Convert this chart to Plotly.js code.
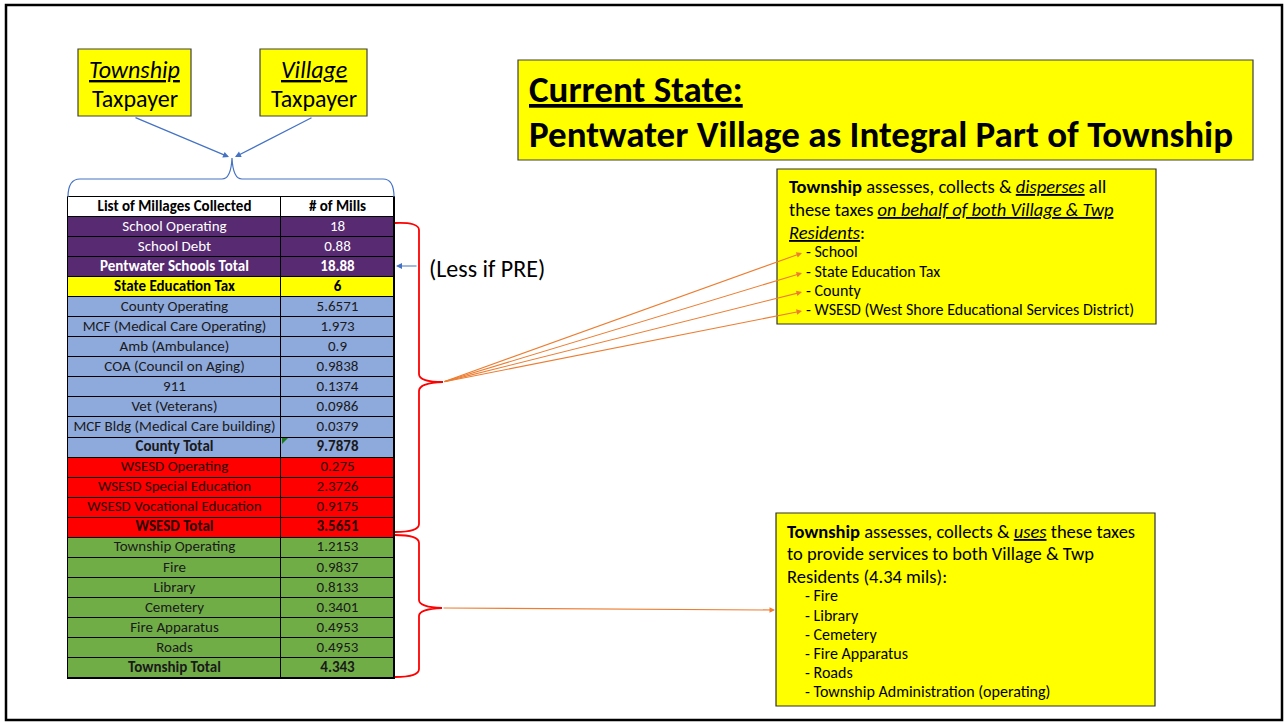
<!DOCTYPE html>
<html><head><meta charset="utf-8">
<script src="https://cdn.plot.ly/plotly-3.0.1.min.js"></script>
<style>html,body{margin:0;padding:0;background:#fff;} #chart{width:1287px;height:722px;}</style>
</head><body><div id="chart"></div>
<script>
// ---- data ----
const headerLabels = ['List of Millages Collected', '# of Mills'];
const millageNames = ['School Operating','School Debt','Pentwater Schools Total','State Education Tax',
  'County Operating','MCF (Medical Care Operating)','Amb (Ambulance)','COA (Council on Aging)','911',
  'Vet (Veterans)','MCF Bldg (Medical Care building)','County Total',
  'WSESD Operating','WSESD Special Education','WSESD Vocational Education','WSESD Total',
  'Township Operating','Fire','Library','Cemetery','Fire Apparatus','Roads','Township Total'];
const millageValues = [18,0.88,18.88,6,5.6571,1.973,0.9,0.9838,0.1374,0.0986,0.0379,9.7878,
  0.275,2.3726,0.9175,3.5651,1.2153,0.9837,0.8133,0.3401,0.4953,0.4953,4.343];
const millageGroups = ['school','school','school','state','county','county','county','county','county',
  'county','county','county','wsesd','wsesd','wsesd','wsesd','township','township','township','township',
  'township','township','township'];
const totalRows = [false,false,true,true,false,false,false,false,false,false,false,true,
  false,false,false,true,false,false,false,false,false,false,true];

const titleLines = ['Current State:', 'Pentwater Village as Integral Part of Township'];
const taxpayerTypes = ['Township', 'Village'];
const disperseList = ['- School', '- State Education Tax', '- County', '- WSESD (West Shore Educational Services District)'];
const useList = ['- Fire', '- Library', '- Cemetery', '- Fire Apparatus', '- Roads', '- Township Administration (operating)'];
const township_mils = 4.34;

// ---- styles ----
const FONT = 'Carlito, Lato, "Open Sans", sans-serif';
const groupOrder = ['header','school','state','county','wsesd','township'];
const fillMap = {header:'#FFFFFF', school:'#582A72', state:'#FFFF00', county:'#8EA9DB', wsesd:'#FF0000', township:'#70AD47'};
const textMap = {header:'#000000', school:'#FFFFFF', state:'#000000', county:'#1a1a1a', wsesd:'#2a0000', township:'#1a1a1a'};
const YEL = '#FFFF00', BLUE = '#4472C4', ORANGE = '#ED7D31', RED = '#FF0000';
const u = s => '<span style="text-decoration:underline">' + s + '</span>';

const W = 1287, H = 722;
const COLW = [213, 113];               // column widths (table units = px)
const colEdges = [0, COLW[0], COLW[0] + COLW[1]];
const colMid = [COLW[0] / 2, COLW[0] + COLW[1] / 2];
const TBL = {x0: 68, x1: 394, y0: 197, y1: 678};

// table rows: header + data rows
const rowGroups = ['header'].concat(millageGroups);
const nRows = rowGroups.length;
const rowEdges = Array.from({length: nRows + 1}, (_, i) => i);
const zRows = rowGroups.map(g => [groupOrder.indexOf(g), groupOrder.indexOf(g)]);
const n = groupOrder.length - 1;
const colorscale = [];
groupOrder.forEach((g, k) => { colorscale.push([k / n === 0 ? 0 : (k - 0.5) / n, fillMap[g]]); colorscale.push([k === n ? 1 : (k + 0.5) / n, fillMap[g]]); });
colorscale[0][0] = 0;

const cellFill = {
  type: 'heatmap', xaxis: 'x2', yaxis: 'y2',
  x: colEdges, y: rowEdges, z: zRows, zmin: 0, zmax: n,
  colorscale, showscale: false, xgap: 1, ygap: 1, hoverinfo: 'skip'
};

// text traces: split into regular and bold
const allNames = headerLabels.slice(0,1).concat(millageNames);
const allVals = headerLabels.slice(1).concat(millageValues.map(String));
const allBold = [true].concat(totalRows);
function textTrace(bold) {
  const xs = [], ys = [], ts = [], cs = [];
  allNames.forEach((nm, i) => {
    if (allBold[i] !== bold) return;
    const c = textMap[rowGroups[i]];
    xs.push(colMid[0], colMid[1]); ys.push(i + 0.5, i + 0.5);
    ts.push(nm, allVals[i]); cs.push(c, c);
  });
  return {type: 'scatter', mode: 'text', xaxis: 'x2', yaxis: 'y2', x: xs, y: ys, text: ts,
    textposition: 'middle center', cliponaxis: false, hoverinfo: 'skip', showlegend: false,
    textfont: {family: FONT, size: 15, color: cs, weight: bold ? 'bold' : 'normal'}};
}
const dummy = {type: 'scatter', x: [], y: [], showlegend: false, hoverinfo: 'skip'};

const shapes = [];
const ann = [];
const rect = (x0,y0,x1,y1,fill,lc,lw) => shapes.push({type:'rect',xref:'x',yref:'y',x0,y0,x1,y1,fillcolor:fill,line:{color:lc,width:lw},layer:'below'});
const txt = (x,y,t,size,opts={}) => ann.push(Object.assign({xref:'x',yref:'y',x,y,text:t,showarrow:false,xanchor:'left',yanchor:'middle',font:{family:FONT,size,color:'#000'}},opts));
const arrow = (x0,y0,x1,y1,color,w) => ann.push({xref:'x',yref:'y',axref:'x',ayref:'y',x:x1,y:y1,ax:x0,ay:y0,text:'',showarrow:true,arrowhead:2,arrowsize:1,arrowwidth:w,arrowcolor:color,standoff:0,startstandoff:0});

// table grid background (black lines show through the cell gaps)
shapes.push({type:'rect',xref:'x',yref:'y',x0:TBL.x0-1,y0:TBL.y0-1,x1:TBL.x1+1,y1:TBL.y1+1,fillcolor:'#000',line:{width:0},layer:'below'});

// outer frame
shapes.push({type:'rect',xref:'x',yref:'y',x0:6,y0:5,x1:1282,y1:720,line:{color:'#000',width:2.5},fillcolor:'rgba(0,0,0,0)'});

// taxpayer boxes
const tpBoxes = [[78,191],[260,367]];
taxpayerTypes.forEach((t,i) => {
  const [x0,x1] = tpBoxes[i];
  rect(x0,49,x1,116,YEL,'#404040',1.2);
  txt((x0+x1)/2, 69, '<i>' + u(t) + '</i>', 24, {xanchor:'center'});
  txt((x0+x1)/2, 98, 'Taxpayer', 24, {xanchor:'center'});
});
arrow(134,117,229,157,BLUE,1.2);
arrow(313,117,235,157,BLUE,1.2);
// blue brace above table
shapes.push({type:'path',xref:'x',yref:'y',path:'M 68 197 Q 68 179 80 179 L 222 179 Q 231 179 232 158 Q 233 179 242 179 L 383 179 Q 394 179 394 197',line:{color:BLUE,width:1.2}});

// title box
rect(518,60,1253,160,YEL,'#404040',1.2);
txt(527, 89, '<b>' + u(titleLines[0]) + '</b>', 37);
txt(527, 134, '<b>' + titleLines[1] + '</b>', 37);

// (Less if PRE)
txt(427, 268, '(Less if PRE)', 24);
arrow(418,266,396,266,BLUE,1.2);

// red braces
shapes.push({type:'path',xref:'x',yref:'y',path:'M 395 223 Q 419 222 419 230 L 419 374 Q 419 382 443 382 Q 419 383 419 391 L 419 524 Q 419 532 395 532',line:{color:RED,width:1.8}});
shapes.push({type:'path',xref:'x',yref:'y',path:'M 395 535 Q 419 535 419 543 L 419 600 Q 419 607 442 608 Q 419 609 419 616 L 419 669 Q 419 677 395 677',line:{color:RED,width:1.8}});

// upper-right box
rect(777,169,1156,324,YEL,'#303030',1.2);
txt(787, 186, '<b>Township</b> assesses, collects & <i>' + u('disperses') + '</i> all', 18.5);
txt(787, 209, 'these taxes <i>' + u('on behalf of both Village & Twp') + '</i>', 18.5);
txt(787, 232, '<i>' + u('Residents') + '</i>:', 18.5);
const dy1 = [251, 271, 290, 309];
disperseList.forEach((s,i) => txt(804, dy1[i], s, 16));
dy1.forEach(y => arrow(443,382,802,y+2,ORANGE,1.1));

// lower-right box
rect(776,513,1155,706,YEL,'#303030',1.2);
txt(785, 531, '<b>Township</b> assesses, collects & <i>' + u('uses') + '</i> these taxes', 18.5);
txt(785, 553, 'to provide services to both Village & Twp', 18.5);
txt(785, 576, 'Residents (' + township_mils + ' mils):', 18.5);
const dy2 = [595, 615, 634, 653, 672, 691];
useList.forEach((s,i) => txt(803, dy2[i], s, 16));
arrow(442,608,775,610,ORANGE,1.1);

// comment indicator in County Total cell
shapes.push({type:'path',xref:'x',yref:'y',path:'M 282 438 L 288 438 L 282 444 Z',fillcolor:'#1E7B1E',line:{width:0},layer:'above'});

const layout = {
  width: W, height: H, margin: {l:0, r:0, t:0, b:0},
  paper_bgcolor: '#FFFFFF', plot_bgcolor: 'rgba(0,0,0,0)', showlegend: false,
  xaxis: {range: [0, W], visible: false, fixedrange: true},
  yaxis: {range: [H, 0], visible: false, fixedrange: true},
  xaxis2: {domain: [TBL.x0 / W, TBL.x1 / W], range: [0, colEdges[2]], visible: false, fixedrange: true, anchor: 'y2'},
  yaxis2: {domain: [1 - TBL.y1 / H, 1 - TBL.y0 / H], range: [nRows, 0], visible: false, fixedrange: true, anchor: 'x2'},
  shapes, annotations: ann, font: {family: FONT}
};
Plotly.newPlot('chart', [dummy, cellFill, textTrace(false), textTrace(true)], layout, {displayModeBar: false, staticPlot: true});
</script></body></html>
